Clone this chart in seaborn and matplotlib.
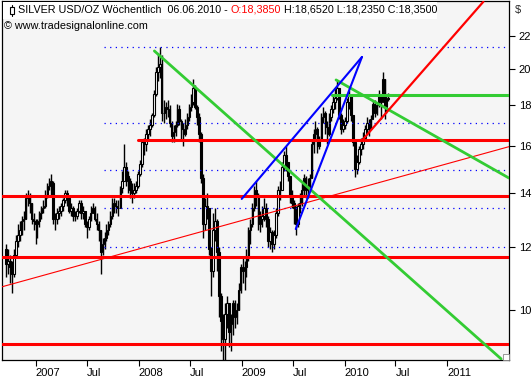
import numpy as np
import pandas as pd
import matplotlib
matplotlib.use("Agg")
import matplotlib.pyplot as plt
import matplotlib.dates as mdates
from matplotlib.ticker import FixedLocator, NullLocator
from matplotlib.transforms import IdentityTransform
from matplotlib.patches import Rectangle
from matplotlib.lines import Line2D
import seaborn as sns

sns.set_style("white")
plt.rcParams["font.family"] = ["Liberation Sans", "DejaVu Sans"]

# weekly silver bars (USD/oz), one value per week
first_week = "2006-09-17"
last_week = "2010-06-06"
first_open = 11.9

close_2006 = [11.4, 11.5, 11.3, 11.1, 11.7, 12.2, 12.4, 12.6, 12.9, 13.0, 13.8, 13.9, 13.6, 13.0, 12.9, 12.8]
high_2006 = [12.1, 11.9, 11.7, 11.5, 11.9, 12.4, 12.8, 12.9, 13.1, 13.3, 14.0, 14.1, 14.0, 13.6, 13.2, 13.0]
low_2006 = [11.0, 11.1, 10.8, 10.5, 11.0, 11.6, 12.0, 12.2, 12.4, 12.6, 13.0, 13.5, 13.2, 12.8, 12.6, 12.1]

close_2007 = [12.9, 13.2, 13.4, 13.5, 13.9, 14.3, 14.5, 14.4, 13.0, 13.0, 13.2, 13.3, 13.5, 13.7, 14.0, 13.8,
              13.3, 13.4, 13.1, 13.1, 13.3, 13.6, 13.2, 13.3, 12.8, 12.7, 13.0, 13.2, 13.4, 13.0, 12.8, 12.6,
              11.8, 12.1, 12.3, 12.6, 12.8, 13.1, 13.6, 13.5, 13.4, 13.4, 14.2, 14.5, 15.1, 14.7, 14.5, 14.1,
              14.0, 14.1, 14.3, 14.8]
high_2007 = [13.0, 13.3, 13.5, 13.7, 14.1, 14.4, 14.6, 14.8, 14.5, 13.2, 13.4, 13.5, 13.6, 13.8, 14.1, 14.1,
             13.9, 13.6, 13.5, 13.3, 13.4, 13.7, 13.7, 13.5, 13.3, 12.9, 13.1, 13.5, 13.6, 13.5, 13.2, 12.9,
             12.6, 12.3, 12.5, 12.8, 12.9, 13.3, 13.8, 13.8, 13.7, 13.7, 14.3, 14.9, 16.1, 15.3, 14.9, 14.6,
             14.4, 14.4, 14.5, 14.9]
low_2007 = [12.3, 12.7, 13.0, 13.2, 13.4, 13.8, 14.1, 13.9, 12.8, 12.6, 12.8, 13.0, 13.1, 13.3, 13.6, 13.5,
            13.2, 13.1, 12.9, 12.9, 13.0, 13.2, 13.0, 13.0, 12.7, 12.3, 12.6, 12.9, 13.2, 12.9, 12.6, 12.2,
            11.1, 11.7, 11.9, 12.2, 12.4, 12.7, 13.0, 13.2, 13.2, 13.1, 13.4, 14.0, 14.6, 14.3, 14.0, 13.8,
            13.6, 13.8, 14.0, 14.2]

close_2008 = [15.2, 16.2, 16.1, 16.6, 16.8, 17.0, 17.5, 18.6, 19.8, 20.1, 20.3, 17.6, 17.6, 17.9, 17.8, 17.1,
              16.5, 16.7, 17.0, 17.8, 17.2, 16.8, 16.6, 17.0, 17.4, 17.9, 18.2, 18.9, 17.9, 17.4, 16.6, 14.6,
              12.8, 13.5, 13.4, 11.9, 11.2, 12.6, 12.9, 11.8, 10.4, 9.7, 9.2, 9.9, 10.2, 9.4, 9.6, 10.2,
              9.8, 10.0, 10.6, 11.3]
high_2008 = [15.4, 16.3, 16.4, 16.8, 17.0, 17.3, 17.6, 18.8, 20.1, 20.9, 21.3, 20.8, 18.3, 18.2, 18.3, 18.0,
             17.2, 17.0, 17.2, 18.1, 18.0, 17.3, 17.1, 17.3, 17.6, 18.1, 18.6, 19.4, 19.1, 18.0, 17.6, 16.7,
             14.8, 13.8, 14.0, 13.4, 12.0, 13.2, 13.4, 13.0, 12.0, 10.5, 9.9, 10.2, 10.4, 10.2, 9.9, 10.3,
             10.3, 10.2, 10.8, 11.4]
low_2008 = [14.7, 15.1, 15.6, 15.8, 16.3, 16.5, 16.9, 17.4, 18.5, 19.3, 19.5, 17.2, 17.1, 17.3, 17.4, 16.9,
            16.2, 16.2, 16.5, 16.9, 17.0, 16.3, 16.0, 16.5, 16.8, 17.2, 17.7, 18.0, 17.8, 17.0, 16.2, 14.4,
            12.3, 12.6, 13.0, 11.7, 10.4, 11.0, 12.2, 11.2, 9.8, 8.9, 8.5, 8.6, 9.5, 9.0, 8.9, 9.3,
            9.5, 9.6, 10.0, 10.5]

close_2009 = [11.2, 11.3, 11.6, 12.6, 12.8, 13.4, 14.1, 13.9, 12.8, 13.0, 13.1, 13.4, 13.0, 12.2, 12.5, 12.1,
              12.4, 13.2, 14.1, 14.1, 15.1, 15.6, 15.3, 14.7, 13.9, 13.6, 13.4, 12.8, 13.5, 13.6, 14.1, 14.6,
              14.1, 14.3, 14.6, 16.1, 16.6, 16.8, 16.0, 16.3, 17.4, 17.6, 16.9, 16.6, 17.4, 17.8, 18.2, 18.4,
              18.9, 17.5, 16.8, 17.0]
high_2009 = [11.6, 11.5, 11.9, 12.7, 13.0, 13.6, 14.3, 14.5, 14.0, 13.3, 13.5, 13.8, 13.6, 13.1, 12.7, 12.6,
             12.6, 13.4, 14.3, 14.5, 15.3, 15.8, 16.0, 15.3, 14.6, 14.1, 13.7, 13.5, 13.6, 14.0, 14.4, 14.8,
             14.7, 14.6, 14.8, 16.3, 16.8, 17.2, 16.9, 16.5, 17.6, 17.9, 17.7, 17.2, 17.6, 18.0, 18.6, 18.9,
             19.3, 18.9, 17.6, 17.3]
low_2009 = [10.8, 10.6, 11.0, 11.5, 12.1, 12.7, 13.3, 13.5, 12.6, 12.5, 12.7, 12.9, 12.7, 12.0, 11.9, 11.8,
            11.9, 12.3, 13.1, 13.7, 14.1, 14.9, 14.9, 14.5, 13.6, 13.4, 12.8, 12.4, 12.7, 13.2, 13.5, 13.9,
            13.8, 13.8, 14.2, 14.6, 15.7, 16.3, 15.7, 15.9, 16.3, 17.1, 16.6, 16.1, 16.5, 17.2, 17.6, 17.8,
            18.3, 17.3, 16.6, 16.7]

close_2010 = [17.2, 18.2, 18.5, 17.5, 16.2, 15.0, 15.3, 15.9, 16.1, 16.4, 16.8, 17.1, 16.8, 17.3, 18.1, 17.6,
              18.0, 18.6, 18.2, 19.4, 17.9, 18.39, 18.35]
high_2010 = [17.4, 18.4, 18.8, 18.4, 17.5, 16.3, 15.6, 16.0, 16.4, 16.7, 17.0, 17.4, 17.3, 17.5, 18.3, 18.3,
             18.2, 18.8, 18.6, 19.8, 19.4, 18.5, 18.652]
low_2010 = [16.8, 17.1, 17.8, 17.2, 16.0, 14.65, 14.8, 15.2, 15.6, 15.9, 16.3, 16.6, 16.5, 16.8, 17.6, 17.4,
            17.5, 17.9, 17.3, 18.3, 17.3, 17.6, 18.235]

closes = close_2006 + close_2007 + close_2008 + close_2009 + close_2010
highs = high_2006 + high_2007 + high_2008 + high_2009 + high_2010
lows = low_2006 + low_2007 + low_2008 + low_2009 + low_2010

# drawn objects (date, price)
x_start, x_end = "2006-09-03", "2011-08-08"
red_levels = [9.07, 11.65, 13.89]
red_level_upper = ("2007-12-31", 16.30)
green_level = ("2009-11-17", 18.56)
dotted_start = "2007-08-31"
dotted_levels = [21.27, 17.11, 14.95, 13.39, 12.00]
green_down_1 = (["2008-02-26", "2011-07-11"], [21.05, 8.69])
green_down_2 = (["2009-12-02", x_end], [19.37, 14.61])
red_thin = ([x_start, x_end], [10.69, 15.99])
red_rise = (["2010-03-07", "2011-05-09"], [16.32, 24.25])
blue_a = (["2009-01-01", "2010-03-04"], [13.76, 20.69])
blue_b = (["2009-07-12", "2010-03-04"], [12.62, 20.69])

tick_dates = ["2007-01-01", "2007-07-01", "2008-01-01", "2008-07-01", "2009-01-01",
              "2009-07-01", "2010-01-01", "2010-07-01", "2011-01-01"]
tick_labels = ["2007", "Jul", "2008", "Jul", "2009", "Jul", "2010", "Jul", "2011"]
y_ticks = [10, 12, 14, 16, 18, 20, 22]
currency = "\\$"

header_main = "SILVER USD/OZ Wöchentlich  06.06.2010 -"
header_open = "O:18,3850"
header_rest = "H:18,6520 L:18,2350 C:18,3500"
copyright_text = "© www.tradesignalonline.com"

W, H = 532, 380
fig = plt.figure(figsize=(W / 100, H / 100), dpi=100)
fig.patch.set_facecolor("white")
ax = fig.add_axes([2 / W, 1 - 360 / H, 507 / W, 359 / H])
ax.set_facecolor("#f5f5f5")
ax.set_yscale("log")

weeks = pd.date_range(first_week, last_week, freq="W-SUN")
c = np.array(closes)
o = np.concatenate([[first_open], c[:-1]])
hi = np.array(highs)
lo = np.array(lows)
up = c >= o

# candles
ax.vlines(weeks, lo, hi, color="black", linewidth=1.0, zorder=2)
ax.bar(weeks, np.maximum(np.abs(c - o), 0.02), bottom=np.minimum(o, c), width=5.5,
       color=np.where(up, "white", "black"), edgecolor="black", linewidth=0.8, zorder=2)


def trend(dates, prices, color, lw, **kw):
    df = pd.DataFrame({"date": pd.to_datetime(dates), "price": prices})
    sns.lineplot(data=df, x="date", y="price", color=color, linewidth=lw, ax=ax,
                 zorder=3, **kw)


for lv in dotted_levels:
    trend([dotted_start, x_end], [lv, lv], "#0000ff", 0.9, linestyle=(0, (1, 3.5)))
for lv in red_levels:
    trend([x_start, x_end], [lv, lv], "#ff0000", 2.2)
trend([red_level_upper[0], x_end], [red_level_upper[1]] * 2, "#ff0000", 2.2)
trend([green_level[0], x_end], [green_level[1]] * 2, "#33cc33", 2.2)
trend(*red_thin, "#ff0000", 0.8)
trend(*green_down_1, "#33cc33", 2.0)
trend(*green_down_2, "#33cc33", 2.0)
trend(*red_rise, "#ff0000", 1.6)
trend(*blue_a, "#0000ff", 1.5)
trend(*blue_b, "#0000ff", 1.5)

ax.set_xlim(pd.Timestamp(x_start), pd.Timestamp(x_end))
ax.set_ylim(8.662, 24.30)
ax.set_xlabel("")
ax.set_ylabel("")

ax.xaxis.set_major_locator(FixedLocator(mdates.date2num(pd.to_datetime(tick_dates))))
ax.set_xticklabels(tick_labels)
for lab in ax.get_xticklabels():
    lab.set_horizontalalignment("left")
ax.yaxis.set_major_locator(FixedLocator(y_ticks))
ax.yaxis.set_minor_locator(NullLocator())
ax.set_yticklabels([str(v) for v in y_ticks])
ax.yaxis.tick_right()
ax.tick_params(axis="y", which="major", right=True, left=False, length=4, width=0.8,
               pad=3, labelsize=8, colors="black", direction="out")
ax.tick_params(axis="x", which="major", bottom=True, length=4, width=0.8,
               pad=2, labelsize=8, colors="black", direction="out")
for sp in ax.spines.values():
    sp.set_visible(True)
    sp.set_color("black")
    sp.set_linewidth(0.9)

# currency sign above the price scale
ax.annotate(currency, xy=(1, 1), xycoords="axes fraction", xytext=(6, -9),
            textcoords="offset pixels", va="center", ha="left", fontsize=8,
            annotation_clip=False)

# header
fig.canvas.draw()
renderer = fig.canvas.get_renderer()


def width_of(s, fs):
    t = fig.text(0, 0, s, fontsize=fs, transform=IdentityTransform())
    w = t.get_window_extent(renderer).width
    t.remove()
    return w


fs0 = 8
full = header_main + " " + header_open + " " + header_rest
fs = fs0 * 418 / width_of(full, fs0)
sp = width_of("x x", fs) - width_of("xx", fs)
fig.patches.append(Rectangle((3 / W, 1 - 19 / H), 434 / W, 17 / H, transform=fig.transFigure,
                             facecolor="white", edgecolor="none", zorder=5))
x = 17.5
for s, col in [(header_main, "black"), (header_open, "#ff0000"), (header_rest, "black")]:
    fig.text(x / W, 1 - 10 / H, s, fontsize=fs, color=col, va="center", ha="left", zorder=6)
    x += width_of(s, fs) + sp

fsc = fs0 * 144 / width_of(copyright_text, fs0)
fig.text(4 / W, 1 - 26 / H, copyright_text, fontsize=fsc, color="black", va="center",
         ha="left", zorder=6)

# candle icon in header
fig.lines.append(Line2D([11.5 / W, 11.5 / W], [1 - 5 / H, 1 - 16 / H], transform=fig.transFigure,
                        color="black", linewidth=0.8, zorder=7))
fig.patches.append(Rectangle((9.5 / W, 1 - 13.5 / H), 4 / W, 6 / H, transform=fig.transFigure,
                             facecolor="white", edgecolor="black", linewidth=0.8, zorder=8))

# small corner marker
fig.patches.append(Rectangle((503 / W, 1 - 360 / H), 6 / W, 6 / H, transform=fig.transFigure,
                             facecolor="white", edgecolor="#888888", linewidth=0.6, zorder=8))

fig.savefig("out.png", dpi=100, facecolor="white")
